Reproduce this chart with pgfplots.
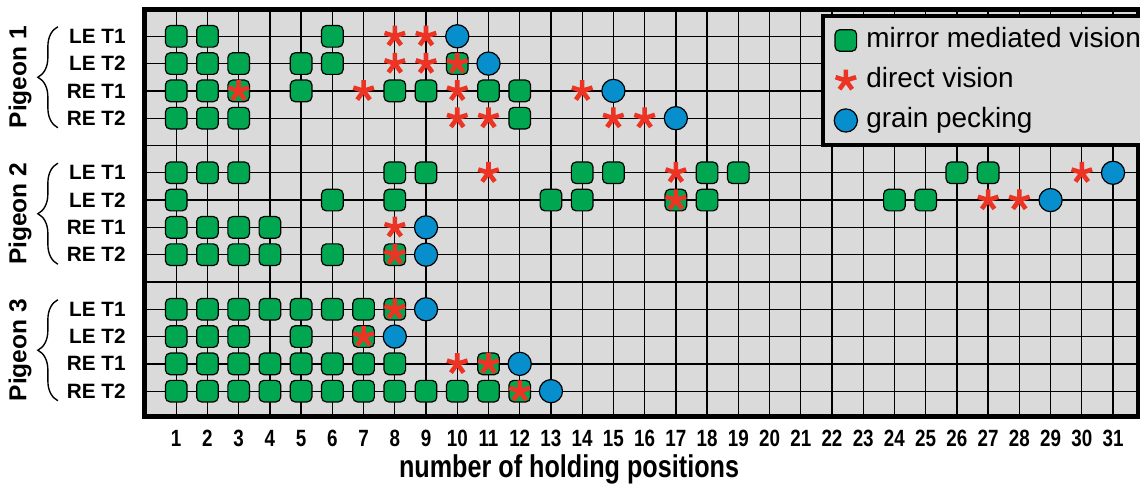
\documentclass[border=0pt]{standalone}
\usepackage{fontspec}
\setmainfont{Liberation Sans}
\newfontfamily\narrowsans[FakeStretch=0.8]{Liberation Sans}
\usepackage{pgfplots}
\pgfplotsset{compat=1.18}
\usetikzlibrary{decorations.pathreplacing}

\definecolor{bggray}{HTML}{DADADA}
\definecolor{mgreen}{HTML}{00A650}
\definecolor{dred}{HTML}{EC3424}
\definecolor{gblue}{HTML}{078ECD}

% square mark with rounded corners (corner radius 2.4bp)
\pgfdeclareplotmark{rsquare}{%
  \pgfpathmoveto{\pgfpointadd{\pgfqpoint{-\pgfplotmarksize}{-\pgfplotmarksize}}{\pgfqpoint{2.4bp}{0pt}}}%
  \pgfpathlineto{\pgfpointadd{\pgfqpoint{\pgfplotmarksize}{-\pgfplotmarksize}}{\pgfqpoint{-2.4bp}{0pt}}}%
  \pgfpatharc{-90}{0}{2.4bp}%
  \pgfpathlineto{\pgfpointadd{\pgfqpoint{\pgfplotmarksize}{\pgfplotmarksize}}{\pgfqpoint{0pt}{-2.4bp}}}%
  \pgfpatharc{0}{90}{2.4bp}%
  \pgfpathlineto{\pgfpointadd{\pgfqpoint{-\pgfplotmarksize}{\pgfplotmarksize}}{\pgfqpoint{2.4bp}{0pt}}}%
  \pgfpatharc{90}{180}{2.4bp}%
  \pgfpathlineto{\pgfpointadd{\pgfqpoint{-\pgfplotmarksize}{-\pgfplotmarksize}}{\pgfqpoint{0pt}{2.4bp}}}%
  \pgfpatharc{180}{270}{2.4bp}%
  \pgfpathclose
  \pgfusepathqfillstroke
}

\tikzset{groupbrace/.style={decorate, decoration={brace, amplitude=10bp}, line width=0.7bp},
  grouplabel/.style={rotate=90, font=\bfseries\fontsize{12.3}{15}\selectfont}}

\begin{document}
\begin{tikzpicture}
\begin{axis}[
  scale only axis, width=496.5bp, height=203.5bp,
  xmin=0, xmax=31.8, ymin=0, ymax=14.91, y dir=reverse,
  axis background/.style={fill=bggray},
  axis line style={line width=2.5bp},
  xtick={1,...,31}, ytick={1,...,14},
  yticklabels={LE T1,LE T2,RE T1,RE T2,{},LE T1,LE T2,RE T1,RE T2,{},LE T1,LE T2,RE T1,RE T2},
  major tick length=0pt,
  grid=major, grid style={black, line width=0.65bp},
  /pgf/number format/assume math mode=true,
  xticklabel style={font=\narrowsans\bfseries\fontsize{11.8}{13}\selectfont, inner sep=0pt, yshift=-7bp},
  yticklabel style={font=\bfseries\fontsize{10.4}{12}\selectfont, inner sep=0pt, xshift=-9.5bp},
  xlabel={number of holding positions},
  xlabel style={font=\narrowsans\bfseries\fontsize{15.8}{18}\selectfont, at={(axis description cs:0.427,0)}, anchor=base, yshift=-30.5bp},
  clip=false,
  legend image code/.code={\draw[#1] plot coordinates {(0bp,0bp)};},
  legend cell align=left,
  legend style={at={(axis description cs:0.681,0.988)}, anchor=north west,
    draw=black, line width=2bp, fill=bggray,
    font=\fontsize{14}{16}\selectfont,
    inner xsep=5.5bp, inner ysep=5.8bp, row sep=7bp,
    nodes={inner xsep=4.5bp, inner ysep=0pt, text height=10bp, text depth=3bp, anchor=west}},
]
% mirror mediated vision
\addplot[only marks, mark=rsquare, mark size=5.4bp,
  mark options={draw=black, fill=mgreen, line width=0.6bp}] coordinates {
  (1,1)(2,1)(6,1)
  (1,2)(2,2)(3,2)(5,2)(6,2)(10,2)
  (1,3)(2,3)(3,3)(5,3)(8,3)(9,3)(11,3)(12,3)
  (1,4)(2,4)(3,4)(12,4)
  (1,6)(2,6)(3,6)(8,6)(9,6)(14,6)(15,6)(18,6)(19,6)(26,6)(27,6)
  (1,7)(6,7)(8,7)(13,7)(14,7)(17,7)(18,7)(24,7)(25,7)
  (1,8)(2,8)(3,8)(4,8)
  (1,9)(2,9)(3,9)(4,9)(6,9)(8,9)
  (1,11)(2,11)(3,11)(4,11)(5,11)(6,11)(7,11)(8,11)
  (1,12)(2,12)(3,12)(5,12)(7,12)
  (1,13)(2,13)(3,13)(4,13)(5,13)(6,13)(7,13)(8,13)(11,13)
  (1,14)(2,14)(3,14)(4,14)(5,14)(6,14)(7,14)(8,14)(9,14)(10,14)(11,14)(12,14)
};
\addlegendentry{mirror mediated vision}
% direct vision
\addplot[only marks, mark=star, mark size=5.4bp,
  mark options={draw=dred, line width=2.3bp}] coordinates {
  (8,1)(9,1)
  (8,2)(9,2)(10,2)
  (3,3)(7,3)(10,3)(14,3)
  (10,4)(11,4)(15,4)(16,4)
  (11,6)(17,6)(30,6)
  (17,7)(27,7)(28,7)
  (8,8)
  (8,9)
  (8,11)
  (7,12)
  (10,13)(11,13)
  (12,14)
};
\addlegendentry{direct vision}
% grain pecking
\addplot[only marks, mark=*, mark size=5.8bp,
  mark options={draw=black, fill=gblue, line width=0.6bp}] coordinates {
  (10,1)(11,2)(15,3)(17,4)
  (31,6)(29,7)(9,8)(9,9)
  (9,11)(8,12)(12,13)(13,14)
};
\addlegendentry{grain pecking}

% group braces and labels
\draw[groupbrace] (axis cs:-2.79,4.35) -- (axis cs:-2.79,0.65);
\node[grouplabel] at (axis cs:-4.0,2.5) {Pigeon 1};
\draw[groupbrace] (axis cs:-2.79,9.35) -- (axis cs:-2.79,5.65);
\node[grouplabel] at (axis cs:-4.0,7.5) {Pigeon 2};
\draw[groupbrace] (axis cs:-2.79,14.35) -- (axis cs:-2.79,10.65);
\node[grouplabel] at (axis cs:-4.0,12.5) {Pigeon 3};
\end{axis}
\pgfresetboundingbox
\path[use as bounding box] (-72.5bp,-35bp) rectangle (497.5bp,208bp);
\end{tikzpicture}
\end{document}
